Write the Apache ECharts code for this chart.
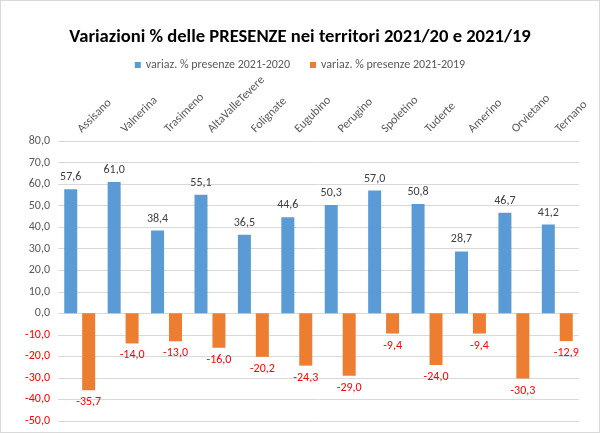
<!DOCTYPE html>
<html><head><meta charset="utf-8">
<script src="https://cdn.jsdelivr.net/npm/echarts@6/dist/echarts.min.js"></script>
<style>html,body{margin:0;padding:0;background:#fff}#c{width:598px;height:431px;border:1px solid #d9d9d9}</style>
</head><body><div id="c"></div>
<script>
const categories = ['Assisano','Valnerina','Trasimeno','AltaValleTevere','Folignate','Eugubino','Perugino','Spoletino','Tuderte','Amerino','Orvietano','Ternano'];
const serie2020 = [57.6, 61.0, 38.4, 55.1, 36.5, 44.6, 50.3, 57.0, 50.8, 28.7, 46.7, 41.2];
const serie2019 = [-35.7, -14.0, -13.0, -16.0, -20.2, -24.3, -29.0, -9.4, -24.0, -9.4, -30.3, -12.9];
const seriesNames = ['variaz. % presenze 2021-2020', 'variaz. % presenze 2021-2019'];
const yMin = -50, yMax = 80, yStep = 10;

const fmt = v => Number(v).toFixed(1).replace('.', ',');
const font = 'Carlito, Calibri, "Liberation Sans Narrow", "Open Sans", sans-serif';
const chart = echarts.init(document.getElementById('c'));
chart.setOption({
  animation: false,
  textStyle: { fontFamily: font },
  title: { text: 'Variazioni % delle PRESENZE nei territori 2021/20 e 2021/19', left: 'center', top: 22,
    textStyle: { fontSize: 18.6, fontWeight: 'bold', color: '#000', fontFamily: font } },
  legend: { top: 53, left: 'center', itemWidth: 6, itemHeight: 6, itemGap: 20, icon: 'rect',
    textStyle: { fontSize: 12, color: '#595959', fontFamily: font } },
  grid: { left: 57, right: 20, top: 140, bottom: 11 },
  xAxis: { type: 'category', data: categories, position: 'top',
    axisLine: { show: false }, axisTick: { show: false },
    axisLabel: { rotate: 45, margin: 10, fontSize: 12, color: '#595959', interval: 0, fontFamily: font } },
  yAxis: { type: 'value', min: yMin, max: yMax, interval: yStep,
    axisLine: { show: false }, axisTick: { show: false },
    splitLine: { lineStyle: { color: '#d9d9d9' } },
    axisLabel: { formatter: fmt, fontSize: 12, margin: 8, fontFamily: font,
      color: v => (v < 0 ? '#ff0000' : '#595959') } },
  series: [
    { name: seriesNames[0], type: 'bar', data: serie2020, barWidth: 13, barGap: '38%',
      itemStyle: { color: '#5b9bd5' },
      label: { show: true, position: 'top', distance: 6, formatter: p => fmt(p.value), fontSize: 12, color: '#404040', fontFamily: font } },
    { name: seriesNames[1], type: 'bar', data: serie2019, barWidth: 13,
      itemStyle: { color: '#ed7d31' },
      label: { show: true, position: 'bottom', distance: 6, formatter: p => fmt(p.value), fontSize: 12, color: '#ff0000', fontFamily: font } }
  ]
});
</script></body></html>
